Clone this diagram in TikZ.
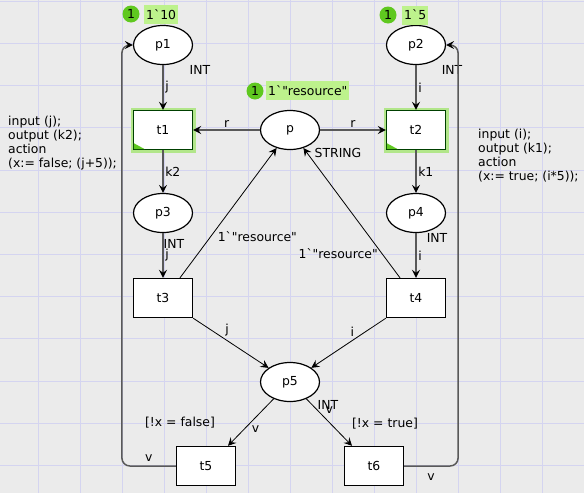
\documentclass[tikz,border=0pt]{standalone}
\usepackage{fontspec}
\setmainfont{DejaVu Sans}[Ligatures=TeXOff]
\usetikzlibrary{arrows.meta,shapes.geometric}
\definecolor{canvas}{HTML}{EBEBEB}
\definecolor{gridblue}{HTML}{D4D4F0}
\definecolor{tokgreen}{HTML}{5FC81F}
\definecolor{marklight}{HTML}{BDF28C}
\definecolor{glowgreen}{HTML}{B2E68A}
\newcommand{\bktick}{\char"60\relax}

\begin{document}
\begin{tikzpicture}[x=1pt,y=-1pt,font=\fontsize{12.4}{14}\selectfont,
    >={Stealth[length=8pt,width=8pt,inset=3pt,color=black]},
    place/.style={ellipse,draw,line width=1.2pt,fill=white,minimum width=59pt,minimum height=39pt,inner sep=0pt},
    trans/.style={draw,line width=1.4pt,fill=white,minimum width=59pt,minimum height=39pt,inner sep=0pt},
    enabled/.style={trans,draw=green!25!black,preaction={draw=glowgreen,line width=6pt}},
    arc/.style={->,line width=1.5pt,draw=black!65},
    slant/.style={->,line width=0.8pt},
    token/.style={circle,fill=tokgreen,inner sep=0pt,minimum size=17pt},
    marking/.style={fill=marklight,inner sep=2pt,minimum height=19pt},
    lbl/.style={inner sep=1.5pt}]
  \useasboundingbox (0,0) rectangle (584,493);
  \fill[canvas] (0,0) rectangle (584,493);
  \foreach \x in {0,...,13}
    \draw[gridblue] ({37.7+42*\x},0) -- +(0,493);
  \foreach \y in {0,...,11}
    \draw[gridblue] (0,{1+42.2*\y}) -- +(584,0);

  % places
  \node[place] (p1) at (163,45) {p1};
  \node[place] (p2) at (416,45) {p2};
  \node[place] (p) at (290,130) {p};
  \node[place] (p3) at (163,213) {p3};
  \node[place] (p4) at (416,213) {p4};
  \node[place] (p5) at (290,382) {p5};

  % transitions
  \node[enabled] (t1) at (163,130) {t1};
  \node[enabled] (t2) at (416,130) {t2};
  \node[trans] (t3) at (163,298) {t3};
  \node[trans] (t4) at (416,298) {t4};
  \node[trans] (t5) at (206,466) {t5};
  \node[trans] (t6) at (374,466) {t6};
  \foreach \t in {t1,t2}
    \fill[tokgreen] ([shift={(1,-1)}]\t.south west) -- ++(11,0) -- ++(-11,-6) -- cycle;

  % markings
  \node[token] (m1) at (131,14) {1};
  \node[marking,anchor=west] (m1v) at (144,14.5) {1\bktick10};
  \node[token] (m2) at (388,15) {1};
  \node[marking,anchor=west] (m2v) at (402,15) {1\bktick5};
  \node[token] (m) at (255,91) {1};
  \node[marking,anchor=west] (mv) at (266,90.5) {1\bktick"resource"};

  % colour sets
  \node[lbl] (ty1) at (200,70) {INT};
  \node[lbl] (ty2) at (452,70) {INT};
  \node[lbl] (ty) at (338,153) {STRING};
  \node[lbl] (ty3) at (174,244) {INT};
  \node[lbl] (ty4) at (437,238) {INT};
  \node[lbl] (ty5) at (328,405) {INT};

  % code segments and guards
  \node[align=left,anchor=north west,inner sep=0pt] (c1) at (8,116)
    {input (j);\\output (k2);\\action\\(x:= false; (j+5));};
  \node[align=left,anchor=north west,inner sep=0pt] (c2) at (478,129)
    {input (i);\\output (k1);\\action\\(x:= true; (i*5));};
  \node[lbl] (g5) at (180,423) {[!x = false]};
  \node[lbl] (g6) at (385,424) {[!x = true]};

  % arcs
  \draw[arc] (p1) -- node[lbl,right] (a1) {j} (t1);
  \draw[arc] (p2) -- node[lbl,right] (a2) {i} (t2);
  \draw[arc] (p) -- node[lbl,above] (a3) {r} (t1);
  \draw[arc] (p) -- node[lbl,above] (a4) {r} (t2);
  \draw[arc] (t1) -- node[lbl,right] (a5) {k2} (p3);
  \draw[arc] (t2) -- node[lbl,right] (a6) {k1} (p4);
  \draw[arc] (p3) -- node[lbl,right] (a7) {j} (t3);
  \draw[arc] (p4) -- node[lbl,right] (a8) {i} (t4);
  \draw[slant] ([xshift=17pt]t3.north) -- node[lbl,pos=.32,right=5pt] (a9) {1\bktick"resource"} (p);
  \draw[slant] ([xshift=-16pt]t4.north) -- node[lbl,pos=.19,left=2pt] (a10) {1\bktick"resource"} (p);
  \draw[slant] (t3.south east) -- node[lbl,pos=.4,above right] (a11) {j} (p5);
  \draw[slant] (t4.south west) -- node[lbl,pos=.4,above left] (a12) {i} (p5);
  \draw[slant] (p5) -- node[lbl,pos=.65,right=6pt] (a13) {v} ([xshift=22pt]t5.north);
  \draw[slant] (p5) -- node[lbl,pos=.25,right=6pt] (a14) {v} ([xshift=-22pt]t6.north);

  % feedback arcs
  \draw[arc,rounded corners=8pt] (t5.west) -| node[lbl,pos=.25,above=2pt] (a15) {v}
    ([xshift=-11pt]p1.west) -- (p1.west);
  \draw[arc,rounded corners=8pt] (t6.east) -| node[lbl,pos=.25,below=5pt] (a16) {v}
    ([xshift=12pt]p2.east) -- (p2.east);
\end{tikzpicture}
\end{document}
